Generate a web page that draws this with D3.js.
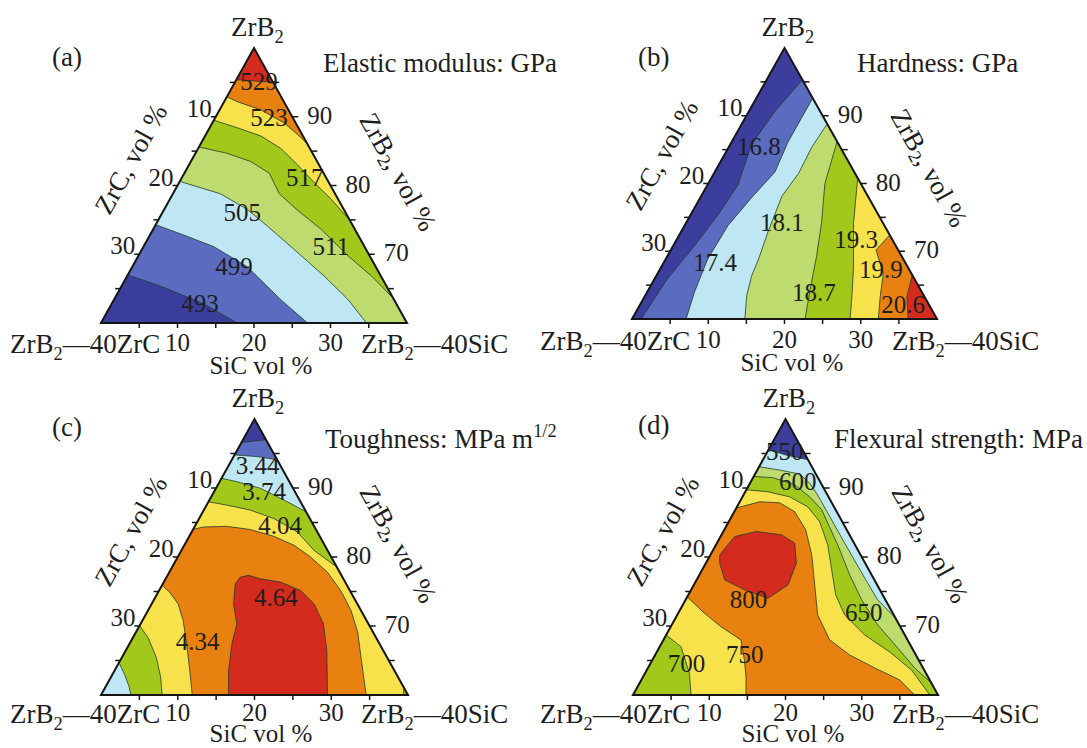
<!DOCTYPE html>
<html><head><meta charset="utf-8">
<script src="https://cdn.jsdelivr.net/npm/d3@7"></script>
<style>
body{margin:0;background:#fff;}
svg{display:block;}
text{font-family:"Liberation Serif","Times New Roman",serif;fill:#1e1e1e;}
</style>
</head><body>
<svg id="chart" width="1087" height="748" font-family="Liberation Serif, Times New Roman, serif"></svg>
<script>
// ================= DATA (compositions as [SiC vol%, ZrC vol%]; ZrB2 = 100 - SiC - ZrC) =================
const TOP = [0, 0], LEFT = [0, 40], RIGHT = [40, 0];
const bottomTicks = [10, 20, 30];   // SiC vol %
const leftTicks = [10, 20, 30];     // ZrC vol %
const rightTicks = [90, 80, 70];    // ZrB2 vol %
const minorTicks = [5, 10, 15, 20, 25, 30, 35];

// ---- (a) Elastic modulus, GPa ----
const aLevels = ["493", "499", "505", "511", "517", "523", "529"];
const aLine493 = [[0,33.0],[5.0,29.6],[12.0,25.2],[17.8,22.2]];
const aLine499 = [[0,25.7],[4.4,22.8],[9.2,19.7],[15.0,16.8],[21.8,14.8],[27.0,13.0]];
const aLine505 = [[0,19.4],[6.2,15.0],[10.9,12.6],[14.7,11.2],[19.9,9.4],[25.8,7.4],[30.6,6.0],[34.7,5.3]];
const aLine511 = [[0,14.4],[4.1,11.2],[7.8,8.7],[11.1,7.1],[13.9,7.3],[17.5,6.1],[22.0,4.4],[27.5,2.8],[32.0,1.2],[36.4,0]];
const aLine517 = [[0,10.5],[3.6,8.0],[7.3,5.5],[10.8,3.8],[14.2,2.8],[17.7,1.9],[21.1,0.9],[25.2,0]];
const aLine523 = [[0,7.1],[1.7,6.1],[5.4,3.6],[9.4,1.5],[12.0,0.6],[13.9,0]];
const aLine529 = [[0,4.6],[2.5,2.3],[5.0,0]];
const aLabelPos = [[11.5,25.6],[13.3,18.5],[10.4,13.5],[24.5,4.4],[16.1,2.8],[7.0,3.1],[3.1,1.8]];

// ---- (b) Hardness, GPa ----
const bLevels = ["16.8", "17.4", "18.1", "18.7", "19.3", "19.9", "20.6"];
const bLine1 = [[4.7,0],[3.4,6.0],[2.8,11.5],[4.0,16.2],[3.6,21.0],[2.8,26.3],[1.7,32.3],[1.2,38.8]];
const bLine2 = [[7.4,0],[7.4,6.5],[7.9,10.4],[6.7,15.5],[5.7,20.5],[5.5,25.6],[6.2,29.8],[7.1,32.9]];
const bLine3 = [[11.2,0],[10.9,3.7],[11.1,7.4],[10.6,11.3],[11.4,15.7],[12.2,19.1],[12.5,21.1],[13.3,23.2],[14.8,25.2]];
const bLine4 = [[13.8,0],[15.3,4.7],[17.8,8.1],[19.6,11.2],[21.2,14.5],[22.7,17.3]];
const bLine5 = [[19.2,0],[22.0,3.9],[25.2,7.1],[27.1,9.4],[28.6,11.4]];
const bLine6 = [[27.6,0],[26.9,2.9],[29.6,3.7],[30.9,5.8],[32.3,7.7]];
const bLine7 = [[33.5,0],[34.4,2.3],[36.2,3.8]];
const bLabelPos = [[3.9,10.6],[6.7,24.9],[12.5,13.2],[21.9,14.2],[23.5,4.7],[29.0,3.7],[34.5,3.4]];

// ---- (c) Toughness, MPa m^1/2 ----
const cLevels = ["3.44", "3.74", "4.04", "4.34", "4.64"];
const cLine0 = [[0,3.4],[3.0,0]];
const cLine1 = [[0,5.2],[3.05,2.4],[5.9,0]];
const cLine2 = [[0,8.6],[2.24,6.84],[5.78,4.26],[9.7,2.04],[13.45,0]];
const cLine2b = [[0,35.3],[1.56,35.44],[2.97,35.71],[3.9,36.1]];
const cLine3 = [[0,12.0],[2.64,9.84],[6.05,7.15],[9.72,4.7],[13.75,2.61],[17.28,1.76],[21.46,0]];
const cLine3c = [[38.9,0],[39.4,0.6]];
const cLine3b = [[0,29.95],[1.95,29.71],[4.49,30.07],[6.52,30.96],[7.96,32.04]];
const cLine4 = [[0,16.0],[1.15,14.5],[4.16,11.4],[7.46,8.56],[11.0,6.0],[14.3,4.0],[17.3,2.7],[20.6,1.6],[23.7,1.2],[26.45,1.3],[28.9,2.0],[31.16,3.4],[34.54,5.46]];
const cLine4b = [[0,24.1],[1.5,23.6],[3.45,23.35],[5.32,23.9],[7.46,25.16],[9.83,26.67],[11.89,28.11]];
const cLine5 = [[16.61,23.39],[14.86,21.64],[13.36,19.26],[12.55,17.15],[10.67,16.13],[9.43,14.45],[9.6,13.32],[10.57,12.09],[12.35,10.81],[15.21,8.43],[18.44,6.42],[21.16,5.64],[23.83,5.87],[26.22,7.38],[29.51,10.49]];
const cLabelPos = [[3.8,3.0],[6.5,4.0],[11.1,4.4],[8.7,23.5],[15.7,10.1]];

// ---- (d) Flexural strength, MPa ----
const dLevels = ["550", "600", "650", "700", "750", "800"];
const dLine0 = [[0,4.45],[2.6,2.6],[5.9,0]];
const dLine1 = [[0,6.92],[2.94,4.46],[5.85,2.13],[7.81,1.47],[9.73,1.29],[12.35,1.27],[16.75,1.23],[21.92,1.14],[25.2,1.02],[28.83,0]];
const dLine2 = [[0,8.33],[2.6,5.9],[5.98,3.56],[8.81,2.47],[11.33,1.83],[15.97,2.27],[19.71,2.87],[23.1,3.12],[27.01,2.83],[31.31,1.87],[34.98,1.1],[38.26,0]];
const dLine3 = [[0,10.26],[2.93,7.61],[6.19,5.09],[9.27,3.45],[11.93,2.97],[14.66,3.58],[16.99,4.87],[19.33,6.17],[21.96,6.44],[26.04,5.26],[30.54,3.22],[34.74,1.65],[38.91,1.09]];
const dLine3b = [[0,31.3],[2.8,30.2],[5.83,31.03],[7.61,32.39]];
const dLine4 = [[0,12.91],[2.62,9.38],[5.31,6.83],[7.93,5.51],[10.68,5.38],[13.28,6.4],[15.85,8.19],[18.42,9.98],[21.81,10.21],[25.52,8.68],[29.74,6.34],[33.89,3.93],[36.94,3.06]];
const dLine4b = [[0,25.78],[3.43,24.71],[6.59,23.51],[10.17,21.85],[12.07,22.85],[13.49,23.85],[14.82,25.18]];
const dLine5 = [[1.21,18.47],[1.86,15.18],[4.33,11.97],[7.85,8.93],[10.21,7.79],[11.88,9.02],[12.35,11.69],[10.69,15.29],[7.03,17.73],[3.69,19.63],[1.82,19.08]];
const dLabelPos = [[2.25,2.45],[6.1,2.9],[24.3,3.8],[4.75,30.75],[11.7,22.4],[8.2,17.9]];

// ================= STYLE =================
const C = {
  dblue: "#3c3e9e", mblue: "#5a6bc0", cyan: "#bfe7f3", lgreen: "#bddb6f",
  green: "#a3c81c", yellow: "#f8e24c", orange: "#e8810f", red: "#d42b1f"
};
const rev = a => a.slice().reverse();

const panels = [
  { BL:[101,323], BR:[407,323], top:48, base:C.dblue,
    regions:[ [aLine493,[RIGHT,TOP]], [aLine499,[RIGHT,TOP]], [aLine505,[RIGHT,TOP]],
              [aLine511,[TOP]], [aLine517,[TOP]], [aLine523,[TOP]], [aLine529,[TOP]] ],
    fills:[C.mblue,C.cyan,C.lgreen,C.green,C.yellow,C.orange,C.red],
    labels:aLevels, labelPos:aLabelPos,
    tag:"(a)", tagPos:[52,66], title:[{t:"Elastic modulus: GPa"}], titlePos:[323,72],
    leftName:[10,353], rightName:[361,353], tickY:351, sicY:374 },
  { BL:[632,319], BR:[937,319], top:48, base:C.dblue,
    regions:[ [bLine1,[RIGHT]], [bLine2,[RIGHT]], [bLine3,[RIGHT]], [bLine4,[RIGHT]],
              [bLine5,[RIGHT]], [bLine6,[RIGHT]], [bLine7,[RIGHT]] ],
    fills:[C.mblue,C.cyan,C.lgreen,C.green,C.yellow,C.orange,C.red],
    labels:bLevels, labelPos:bLabelPos,
    tag:"(b)", tagPos:[638,66], title:[{t:"Hardness: GPa"}], titlePos:[857,72],
    leftName:[540,350], rightName:[892,350], tickY:348, sicY:371 },
  { BL:[101,695], BR:[408,695], top:419, base:C.dblue,
    regions:[ [cLine0,[RIGHT,LEFT]], [cLine1,[RIGHT,LEFT]], [cLine2,[RIGHT],rev(cLine2b)],
              [cLine3,cLine3c,rev(cLine3b)], [cLine4,rev(cLine4b)], [cLine5] ],
    fills:[C.mblue,C.cyan,C.green,C.yellow,C.orange,C.red],
    labels:cLevels, labelPos:cLabelPos,
    tag:"(c)", tagPos:[52,436], title:[{t:"Toughness: MPa m"},{t:"1/2",sup:true}], titlePos:[325,448],
    leftName:[10,723], rightName:[361,723], tickY:721, sicY:742 },
  { BL:[633,695], BR:[938,695], top:419, base:C.dblue,
    regions:[ [dLine0,[RIGHT,LEFT]], [dLine1,[RIGHT,LEFT]], [dLine2,[RIGHT,LEFT]],
              [dLine3,rev(dLine3b)], [dLine4,rev(dLine4b)], [dLine5] ],
    fills:[C.cyan,C.lgreen,C.green,C.yellow,C.orange,C.red],
    labels:dLevels, labelPos:dLabelPos,
    tag:"(d)", tagPos:[638,434], title:[{t:"Flexural strength: MPa"}], titlePos:[834,448],
    leftName:[540,723], rightName:[892,723], tickY:721, sicY:742 }
];

const svg = d3.select("#chart");
const FS_BIG = 27, FS_NUM = 25;

function rich(sel, parts, fs) {
  parts.forEach((p, i) => {
    const ts = sel.append("tspan").text(p.t);
    if (p.sub) { ts.attr("font-size", fs*0.68).attr("dy", fs*0.25); }
    else if (p.sup) { ts.attr("font-size", fs*0.68).attr("dy", -fs*0.4); }
    else if (i > 0 && (parts[i-1].sub || parts[i-1].sup)) {
      ts.attr("dy", parts[i-1].sub ? -fs*0.25 : fs*0.4);
    }
  });
  return sel;
}
const ZRB2 = [{t:"ZrB"},{t:"2",sub:true}];

panels.forEach((p, k) => {
  const g = svg.append("g");
  const x = d3.scaleLinear().domain([0, 40]).range([p.BL[0], p.BR[0]]);
  const y = d3.scaleLinear().domain([60, 100]).range([p.BL[1], p.top]);
  const proj = ([s, z]) => [x((40 + s - z) / 2), y(100 - s - z)];
  const tri = [LEFT, RIGHT, TOP].map(proj);
  const line = d3.line().curve(d3.curveLinear);

  const clipId = "clip" + k;
  g.append("clipPath").attr("id", clipId).append("path").attr("d", line(tri) + "Z");
  const cg = g.append("g").attr("clip-path", `url(#${clipId})`);
  cg.append("path").attr("d", line(tri) + "Z").attr("fill", p.base);

  p.regions.forEach((parts, i) => {
    const pts = parts.flat().map(proj);
    cg.append("path").attr("d", line(pts) + "Z")
      .attr("fill", p.fills[i]).attr("stroke", "#1f3d2c").attr("stroke-opacity", 0.8)
      .attr("stroke-width", 1).attr("stroke-linejoin", "round");
  });

  // outline
  g.append("path").attr("d", line(tri) + "Z").attr("fill", "none")
    .attr("stroke", "#151515").attr("stroke-width", 2).attr("stroke-linejoin", "miter");

  // ticks
  minorTicks.forEach(v => {
    const b = proj([v, 40 - v]);
    g.append("line").attr("x1", b[0]).attr("y1", b[1]).attr("x2", b[0]).attr("y2", b[1] + 5)
      .attr("stroke", "#151515").attr("stroke-width", 1.5);
    const l = proj([0, v]);
    g.append("line").attr("x1", l[0]).attr("y1", l[1]).attr("x2", l[0] - 5).attr("y2", l[1])
      .attr("stroke", "#151515").attr("stroke-width", 1.5);
    const r = proj([v, 0]);
    g.append("line").attr("x1", r[0]).attr("y1", r[1]).attr("x2", r[0] + 6).attr("y2", r[1])
      .attr("stroke", "#151515").attr("stroke-width", 1.5);
  });
  bottomTicks.forEach(v => {
    const b = proj([v, 40 - v]);
    g.append("text").attr("x", b[0]).attr("y", p.tickY).attr("text-anchor", "middle")
      .attr("font-size", 25).text(v);
  });
  leftTicks.forEach(v => {
    const l = proj([0, v]);
    g.append("text").attr("x", l[0] - 4).attr("y", l[1]).attr("text-anchor", "end")
      .attr("font-size", FS_NUM).text(v);
  });
  rightTicks.forEach(v => {
    const r = proj([100 - v, 0]);
    g.append("text").attr("x", r[0] + 15).attr("y", r[1] + 7).attr("text-anchor", "start")
      .attr("font-size", FS_NUM).text(v);
  });

  // contour labels
  p.labels.forEach((lab, i) => {
    const q = proj(p.labelPos[i]);
    g.append("text").attr("x", q[0]).attr("y", q[1]).attr("text-anchor", "middle")
      .attr("dominant-baseline", "central").attr("font-size", FS_NUM).text(lab);
  });

  // vertex and axis names
  const apex = proj(TOP);
  rich(g.append("text").attr("x", apex[0] - 23).attr("y", p.top - 12).attr("font-size", FS_BIG), ZRB2, FS_BIG);
  rich(g.append("text").attr("x", p.leftName[0]).attr("y", p.leftName[1]).attr("font-size", FS_BIG),
       [{t:"ZrB"},{t:"2",sub:true},{t:"—40ZrC"}], FS_BIG);
  rich(g.append("text").attr("x", p.rightName[0]).attr("y", p.rightName[1]).attr("font-size", FS_BIG),
       [{t:"ZrB"},{t:"2",sub:true},{t:"—40SiC"}], FS_BIG);
  g.append("text").attr("x", p.BL[0] + 160).attr("y", p.sicY).attr("text-anchor", "middle")
    .attr("font-size", 25).text("SiC vol %");
  g.append("text").attr("transform", `translate(${p.BL[0] + 30},${p.BL[1] - 164}) rotate(-61)`)
    .attr("text-anchor", "middle").attr("dominant-baseline", "central")
    .attr("font-size", FS_BIG).text("ZrC, vol %");
  rich(g.append("text").attr("transform", `translate(${p.BL[0] + 297},${p.BL[1] - 151}) rotate(61)`)
    .attr("text-anchor", "middle").attr("dominant-baseline", "central")
    .attr("font-size", FS_BIG), [{t:"ZrB"},{t:"2",sub:true},{t:", vol %"}], FS_BIG);

  // tag and title
  g.append("text").attr("x", p.tagPos[0]).attr("y", p.tagPos[1]).attr("font-size", FS_BIG).text(p.tag);
  rich(g.append("text").attr("x", p.titlePos[0]).attr("y", p.titlePos[1]).attr("font-size", FS_BIG), p.title, FS_BIG);
});
</script>
</body></html>
